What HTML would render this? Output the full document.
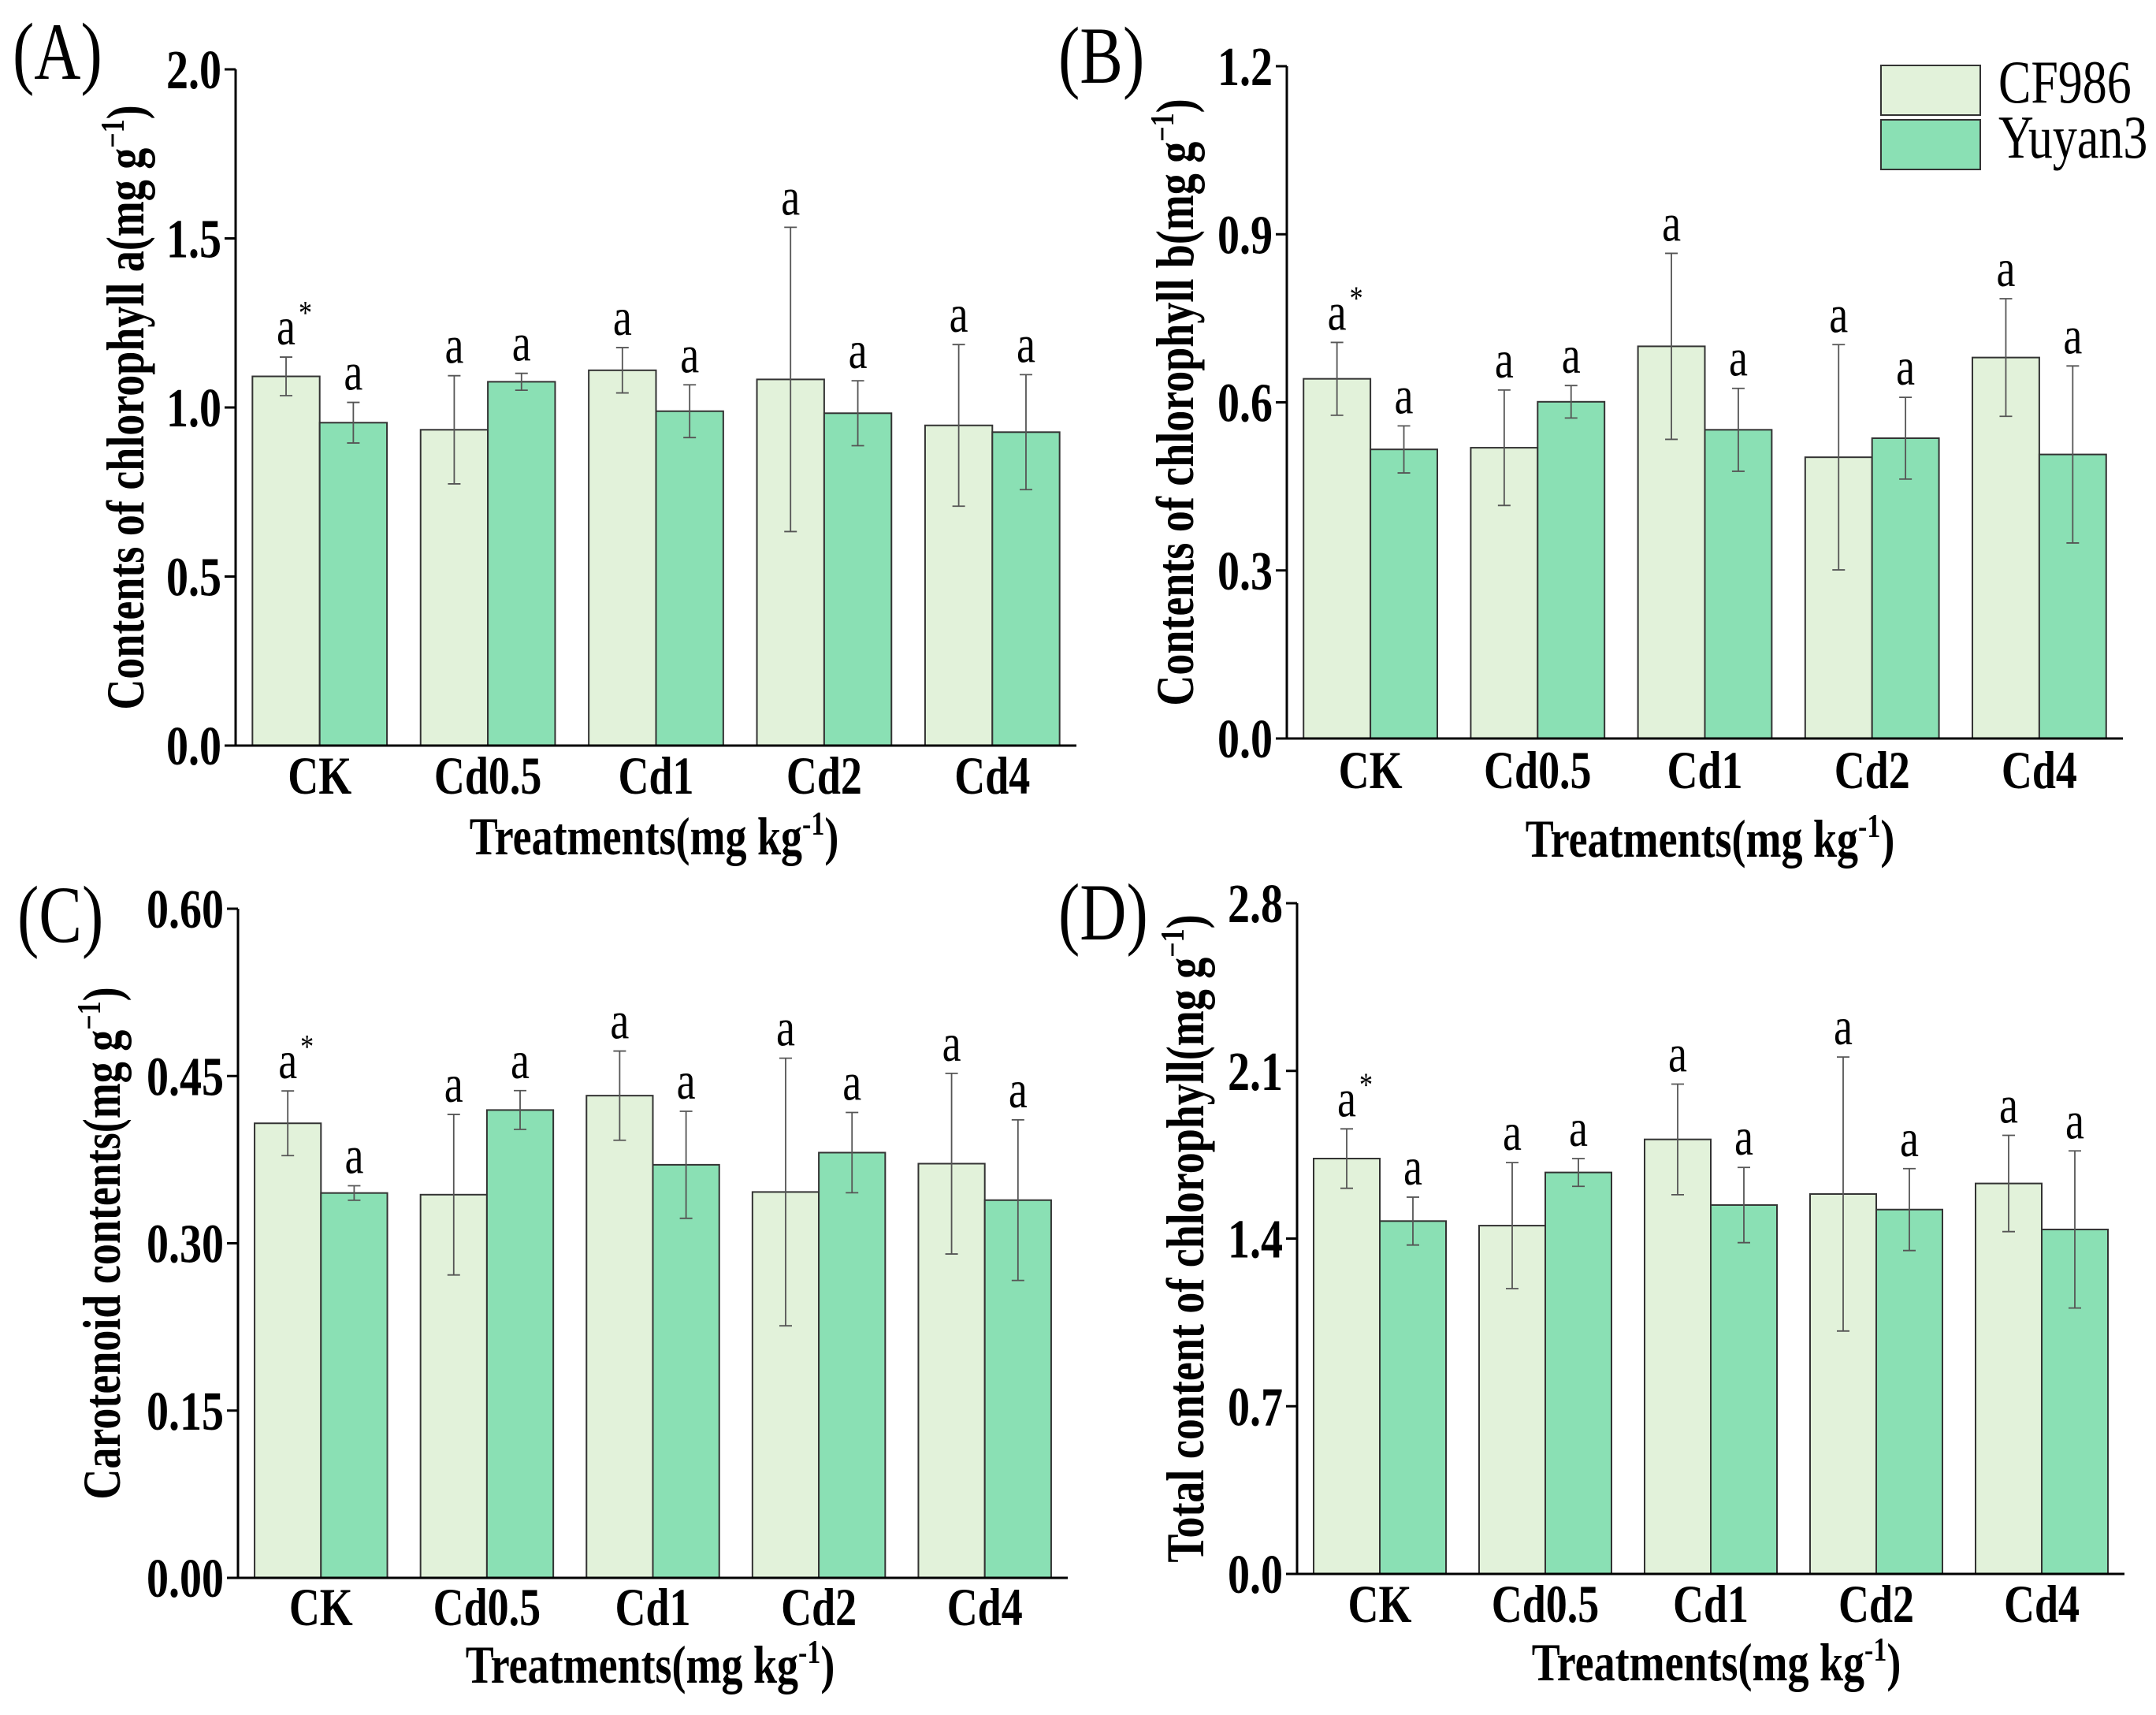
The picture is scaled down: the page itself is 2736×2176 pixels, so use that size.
<!DOCTYPE html>
<html><head><meta charset="utf-8"><style>
html,body{margin:0;padding:0;background:#fff;overflow:hidden;}
svg{display:block;}
text{font-family:"Liberation Serif",serif;}
</style></head><body>
<svg id="fig" width="2736" height="2176" viewBox="0 0 2736 2176" xmlns="http://www.w3.org/2000/svg"></svg>
<script>
const categories = ["CK","Cd0.5","Cd1","Cd2","Cd4"];
const aCF = [1.092,0.934,1.110,1.083,0.947];
const aCFerr = [0.057,0.16,0.067,0.45,0.239];
const aYY = [0.955,1.076,0.989,0.983,0.927];
const aYYerr = [0.06,0.025,0.078,0.096,0.17];
const aTicks = ["0.0","0.5","1.0","1.5","2.0"];
const bCF = [0.642,0.519,0.700,0.502,0.680];
const bCFerr = [0.065,0.103,0.166,0.201,0.105];
const bYY = [0.516,0.601,0.551,0.536,0.507];
const bYYerr = [0.042,0.029,0.074,0.073,0.158];
const bTicks = ["0.0","0.3","0.6","0.9","1.2"];
const cCF = [0.4076,0.3436,0.4324,0.346,0.3714];
const cCFerr = [0.029,0.072,0.040,0.120,0.081];
const cYY = [0.3451,0.4195,0.3704,0.3813,0.3387];
const cYYerr = [0.0065,0.0174,0.048,0.036,0.072];
const cTicks = ["0.00","0.15","0.30","0.45","0.60"];
const dCF = [1.734,1.454,1.814,1.586,1.630];
const dCFerr = [0.124,0.263,0.231,0.572,0.201];
const dYY = [1.473,1.676,1.540,1.521,1.438];
const dYYerr = [0.10,0.058,0.157,0.171,0.328];
const dTicks = ["0.0","0.7","1.4","2.1","2.8"];
const seriesNames = ["CF986","Yuyan3"];

const NS="http://www.w3.org/2000/svg";
const svg=document.getElementById('fig');
function mk(tag,attrs,parent,txt){const e=document.createElementNS(NS,tag);for(const k in attrs)e.setAttribute(k,attrs[k]);if(txt!==undefined)e.textContent=txt;(parent||svg).appendChild(e);return e;}
const SY=1.25;
function T(parent,x,y,str,attrs,rot){
  const a=Object.assign({x:0,y:0,transform:`translate(${x},${y})${rot?' rotate(-90)':''} scale(1,${SY})`},attrs);
  return mk('text',a,parent,str);
}

const panels=[
 {id:'a',label:'(A)',lx:16,ly:100,x0:299,x1:1366,yTop:88,yBot:946,ticks:aTicks,cf:aCF,cfe:aCFerr,yy:aYY,yye:aYYerr,ytitle:'Contents of chlorophyll a(mg g',ytx:160,catY:1007,xtY:1084,xtc:830},
 {id:'b',label:'(B)',lx:1343,ly:105,x0:1633,x1:2694,yTop:84,yBot:937,ticks:bTicks,cf:bCF,cfe:bCFerr,yy:bYY,yye:bYYerr,ytitle:'Contents of chlorophyll b(mg g',ytx:1492,catY:1000,xtY:1087,xtc:2170},
 {id:'c',label:'(C)',lx:22,ly:1195,x0:302,x1:1355,yTop:1153,yBot:2002,ticks:cTicks,cf:cCF,cfe:cCFerr,yy:cYY,yye:cYYerr,ytitle:'Carotenoid contents(mg g',ytx:130,catY:2062,xtY:2135,xtc:825},
 {id:'d',label:'(D)',lx:1343,ly:1192,x0:1646,x1:2696,yTop:1146,yBot:1997,ticks:dTicks,cf:dCF,cfe:dCFerr,yy:dYY,yye:dYYerr,ytitle:'Total content of chlorophyll(mg g',ytx:1505,catY:2058,xtY:2132,xtc:2178}
];

panels.forEach(p=>{
  const g=mk('g',{});
  
  
  const yMax=parseFloat(p.ticks[p.ticks.length-1]);
  const ys=v=>p.yBot-(v/yMax)*(p.yBot-p.yTop);
  const band=(p.x1-p.x0)/categories.length;
  const bw=band*0.4;
  const xc=i=>p.x0+band*(i+0.5);
  const lab=T(g,p.lx,p.ly,p.label,{'font-size':82});
  
  
  [[p.cf,p.cfe,'#e2f2da',-1,'cf986'],[p.yy,p.yye,'#8ae0b4',0,'yuyan']].forEach(([vals,errs,col,off,nm])=>{
    vals.forEach((v,i)=>{
      const x=xc(i)+off*bw;
      const r=mk('rect',{x:x,y:ys(v),width:bw,height:p.yBot-ys(v),fill:col,stroke:'#333','stroke-width':2},g);
      
      
      const cx=x+bw/2, hi=ys(v+errs[i]), lo=ys(v-errs[i]);
      const eb=mk('path',{d:`M${cx},${hi}V${lo}M${cx-8},${hi}H${cx+8}M${cx-8},${lo}H${cx+8}`,stroke:'#555','stroke-width':1.8,fill:'none'},g);
      
      
      const t=T(g,cx,hi-16,'a',{'font-size':54,'text-anchor':'middle'});
      
      
      if(i===0&&off===-1){const s=T(g,cx+16,hi-42,'*',{'font-size':34});}
    });
  });
  const ax=mk('path',{d:`M${p.x0},${p.yTop}V${p.yBot}H${p.x1}`,stroke:'#000','stroke-width':3,fill:'none'},g);
  
  
  p.ticks.forEach(tk=>{
    const y=ys(parseFloat(tk));
    mk('line',{x1:p.x0-14,x2:p.x0,y1:y,y2:y,stroke:'#000','stroke-width':3},g);
    const t=T(g,p.x0-18,y+24,tk,{'font-size':56,'font-weight':'bold','text-anchor':'end'});
    
    
  });
  categories.forEach((c,i)=>{
    const t=T(g,xc(i),p.catY,c,{'font-size':54,'font-weight':'bold','text-anchor':'middle'});
    
    
  });
  const xt=T(g,p.xtc,p.xtY,undefined,{'font-size':54,'font-weight':'bold','text-anchor':'middle'});
  
  
  xt.appendChild(document.createTextNode('Treatments(mg kg'));
  mk('tspan',{dy:-20,'font-size':34},xt,'-1');
  mk('tspan',{dy:20},xt,')');
  const cy=(p.yTop+p.yBot)/2;
  const yt=T(g,p.ytx+22,cy,undefined,{'font-size':54,'font-weight':'bold','text-anchor':'middle'},true);
  
  
  yt.appendChild(document.createTextNode(p.ytitle));
  mk('tspan',{dy:-20,'font-size':34},yt,'−1');
  mk('tspan',{dy:20},yt,')');
});
const lg=mk('g',{});


[['#e2f2da',83,130],['#8ae0b4',152,200]].forEach(([c,y,ty],i)=>{
  const r=mk('rect',{x:2387,y:y,width:126,height:63,fill:c,stroke:'#333','stroke-width':2},lg);
  
  
  const t=T(lg,2536,ty,seriesNames[i],{'font-size':62});
  
  
});
</script>
</body></html>
